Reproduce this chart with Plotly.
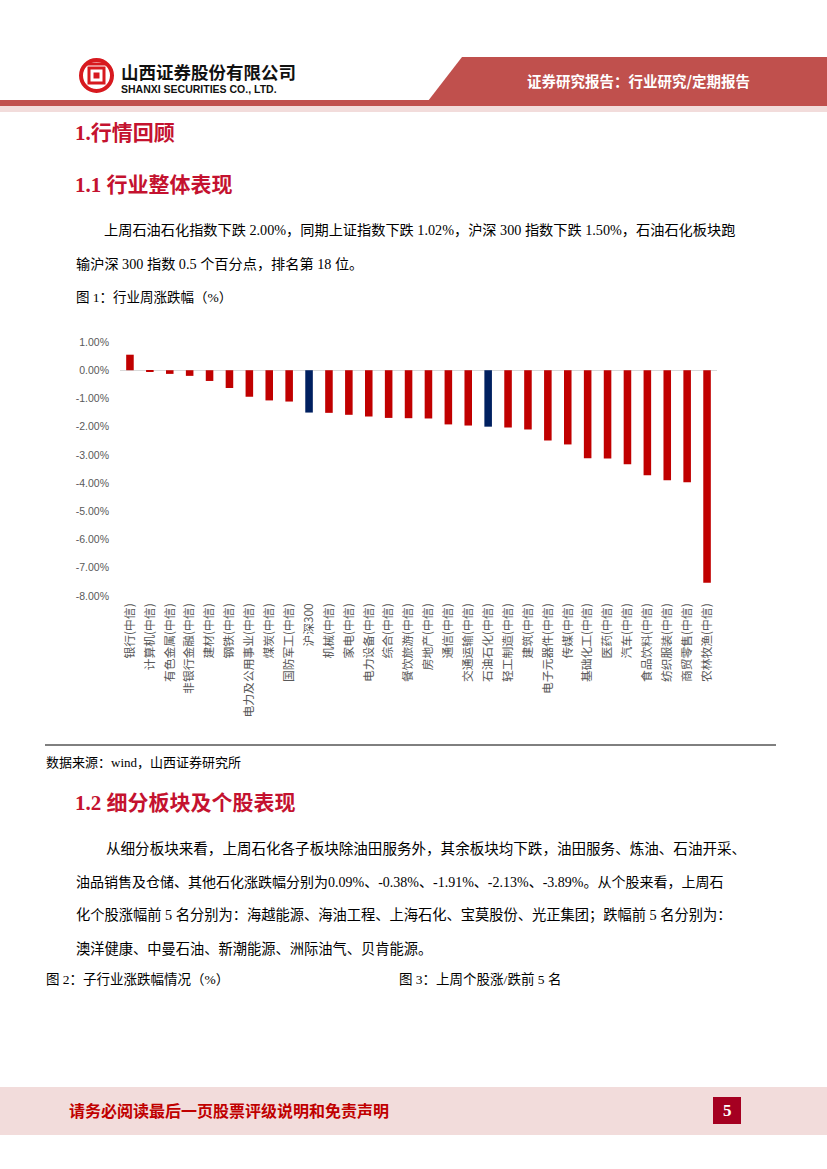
import plotly.graph_objects as go

W, H = 827, 1169

# ---------------- data ----------------
categories = ["银行(中信)", "计算机(中信)", "有色金属(中信)", "非银行金融(中信)", "建材(中信)",
              "钢铁(中信)", "电力及公用事业(中信)", "煤炭(中信)", "国防军工(中信)", "沪深300",
              "机械(中信)", "家电(中信)", "电力设备(中信)", "综合(中信)", "餐饮旅游(中信)",
              "房地产(中信)", "通信(中信)", "交通运输(中信)", "石油石化(中信)", "轻工制造(中信)",
              "建筑(中信)", "电子元器件(中信)", "传媒(中信)", "基础化工(中信)", "医药(中信)",
              "汽车(中信)", "食品饮料(中信)", "纺织服装(中信)", "商贸零售(中信)", "农林牧渔(中信)"]
weekly_change_pct = [0.55, -0.06, -0.13, -0.20, -0.38,
                     -0.63, -0.94, -1.07, -1.11, -1.50,
                     -1.51, -1.58, -1.64, -1.69, -1.70,
                     -1.71, -1.92, -1.96, -2.00, -2.03,
                     -2.10, -2.49, -2.63, -3.12, -3.13,
                     -3.33, -3.72, -3.90, -3.97, -7.53]
highlighted = ["沪深300", "石油石化(中信)"]
y_ticks = [1, 0, -1, -2, -3, -4, -5, -6, -7, -8]
y_tick_labels = ["1.00%", "0.00%", "-1.00%", "-2.00%", "-3.00%", "-4.00%",
                 "-5.00%", "-6.00%", "-7.00%", "-8.00%"]

RED = "#C00000"
NAVY = "#002060"
bar_colors = [NAVY if c in highlighted else RED for c in categories]

# ---------------- helpers ----------------
def px(x):
    return x / W

def py(y):
    return 1 - y / H

SERIF = "Liberation Serif, Noto Sans CJK SC"
SANS = "Noto Sans CJK SC, Liberation Sans"
HEAD_RED = "#C4122F"

fig = go.Figure()
fig.add_trace(go.Bar(
    x=categories, y=weekly_change_pct,
    marker=dict(color=bar_colors, line=dict(width=0)),
    hoverinfo="x+y",
))

# plot area: x 120..717, y 342 (1%) .. 596 (-8%)
fig.update_layout(
    width=W, height=H,
    margin=dict(l=0, r=0, t=0, b=0),
    paper_bgcolor="white", plot_bgcolor="white",
    showlegend=False,
    bargap=0.62,
    xaxis=dict(
        domain=[px(120), px(717)],
        tickangle=-90,
        tickfont=dict(family=SANS, size=11.8, color="#595959"),
        showgrid=False, showline=False, ticks="",
        automargin=False, fixedrange=True,
        ticklabelstandoff=4,
    ),
    yaxis=dict(
        domain=[py(596), py(342)],
        range=[-8, 1],
        tickvals=y_ticks,
        ticktext=y_tick_labels,
        tickfont=dict(family="Liberation Sans", size=10.5, color="#595959"),
        showgrid=False, showline=False, ticks="",
        zeroline=True, zerolinecolor="#D9D9D9", zerolinewidth=1,
        automargin=False, fixedrange=True,
        ticklabelstandoff=10,
    ),
)

shapes = []
# header band
shapes.append(dict(type="path", xref="paper", yref="paper",
                   path=f"M {px(462)} {py(57)} L 1 {py(57)} L 1 {py(101)} L {px(428)} {py(101)} Z",
                   fillcolor="#C0504D", line=dict(width=0), layer="below"))
shapes.append(dict(type="rect", xref="paper", yref="paper", x0=0, x1=1, y0=py(106), y1=py(100),
                   fillcolor="#C0504D", line=dict(width=0), layer="below"))
shapes.append(dict(type="rect", xref="paper", yref="paper", x0=0, x1=1, y0=py(112), y1=py(106),
                   fillcolor="#F2DCDB", line=dict(width=0), layer="below"))
# logo
shapes.append(dict(type="circle", xref="paper", yref="paper", x0=px(81), x1=px(112), y0=py(91), y1=py(60),
                   fillcolor="rgba(0,0,0,0)", line=dict(color="#D7191F", width=4)))
shapes.append(dict(type="rect", xref="paper", yref="paper", x0=px(89), x1=px(104), y0=py(83), y1=py(68),
                   fillcolor="white", line=dict(color="#D7191F", width=3)))
shapes.append(dict(type="rect", xref="paper", yref="paper", x0=px(93.5), x1=px(99.5), y0=py(78.5), y1=py(72.5),
                   fillcolor="#D7191F", line=dict(width=0)))
shapes.append(dict(type="line", xref="paper", yref="paper", x0=px(86), x1=px(107), y0=py(64), y1=py(64),
                   line=dict(color="#D7191F", width=3)))
# source rule
shapes.append(dict(type="line", xref="paper", yref="paper", x0=px(45), x1=px(776), y0=py(745), y1=py(745),
                   line=dict(color="black", width=1)))
# footer
shapes.append(dict(type="rect", xref="paper", yref="paper", x0=0, x1=1, y0=py(1135), y1=py(1087),
                   fillcolor="#F2DCDB", line=dict(width=0), layer="below"))
shapes.append(dict(type="rect", xref="paper", yref="paper", x0=px(713), x1=px(741), y0=py(1124), y1=py(1097),
                   fillcolor="#A50021", line=dict(width=0)))
fig.update_layout(shapes=shapes)

ann = []

def text(x, y, s, size, color="black", family=SERIF, bold=False, xanchor="left"):
    t = f"<b>{s}</b>" if bold else s
    ann.append(dict(xref="paper", yref="paper", x=px(x), y=py(y), text=t, showarrow=False,
                    xanchor=xanchor, yanchor="middle",
                    font=dict(family=family, size=size, color=color)))

# header texts
text(119, 72, "山西证券股份有限公司", 17.5, "#111111", SANS, bold=True)
text(119, 89, "SHANXI SECURITIES CO., LTD.", 10.5, "#111111", "Liberation Sans", bold=True)
text(638, 81, "证券研究报告：行业研究/定期报告", 14.5, "white", SANS, bold=True, xanchor="center")

# section headings and body
text(73, 133, "1.行情回顾", 21, HEAD_RED, SERIF, bold=True)
text(73, 185, "1.1 行业整体表现", 21, HEAD_RED, SERIF, bold=True)
text(102, 230, "上周石油石化指数下跌 2.00%，同期上证指数下跌 1.02%，沪深 300 指数下跌 1.50%，石油石化板块跑", 14.2)
text(74, 264, "输沪深 300 指数 0.5 个百分点，排名第 18 位。", 14.2)
text(74, 297, "图 1：行业周涨跌幅（%）", 13.5)

text(44, 762, "数据来源：wind，山西证券研究所", 13)
text(73, 803, "1.2 细分板块及个股表现", 21, HEAD_RED, SERIF, bold=True)
text(104, 848, "从细分板块来看，上周石化各子板块除油田服务外，其余板块均下跌，油田服务、炼油、石油开采、", 14.55)
text(74, 882, "油品销售及仓储、其他石化涨跌幅分别为0.09%、-0.38%、-1.91%、-2.13%、-3.89%。从个股来看，上周石", 14.0)
text(74, 915, "化个股涨幅前 5 名分别为：海越能源、海油工程、上海石化、宝莫股份、光正集团；跌幅前 5 名分别为：", 14.25)
text(74, 949, "澳洋健康、中曼石油、新潮能源、洲际油气、贝肯能源。", 14.25)
text(44, 979, "图 2：子行业涨跌幅情况（%）", 13.5)
text(397, 979, "图 3：上周个股涨/跌前 5 名", 13.5)

# footer
text(67, 1110, "请务必阅读最后一页股票评级说明和免责声明", 16, "#C00000", SANS, bold=True)
text(727, 1110, "5", 17, "white", SERIF, bold=True, xanchor="center")

fig.update_layout(annotations=ann)

fig.write_html("out.html", config={"displayModeBar": False},
               post_script="document.body.style.margin='0px';")
